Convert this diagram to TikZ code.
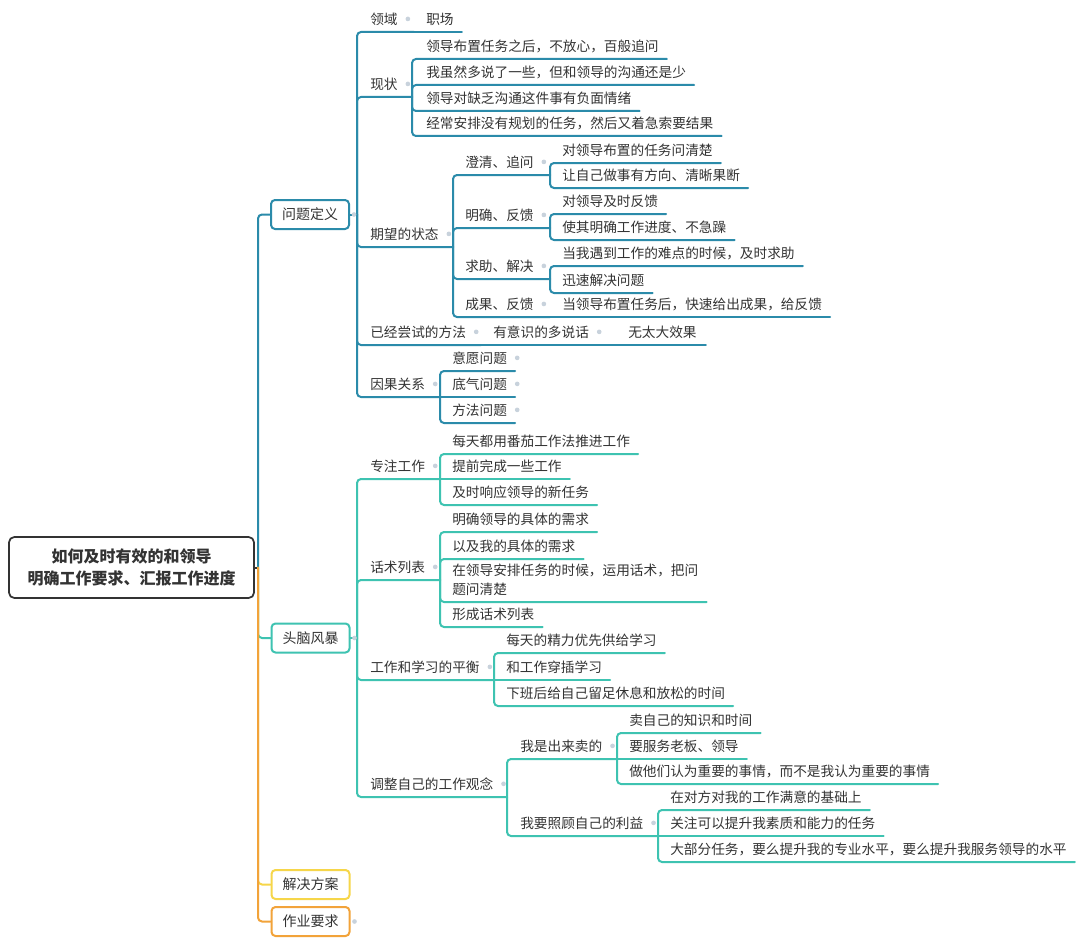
\documentclass[tikz,border=0pt]{standalone}
\usepackage{fontspec}
\setmainfont{Noto Sans CJK SC}
\usepackage{xcolor}
\usepackage{tikz}
\usetikzlibrary{calc}
\definecolor{ink}{HTML}{333333}
\definecolor{blu}{HTML}{2B8BAA}
\definecolor{tea}{HTML}{3EC3B1}
\definecolor{yel}{HTML}{F6D64A}
\definecolor{org}{HTML}{F2A33A}
\definecolor{dotc}{HTML}{C8D2DC}
\tikzset{
  ln/.style={line width=1.5pt, rounded corners=3pt, line cap=round},
  lnb/.style={ln, draw=blu},
  lnt/.style={ln, draw=tea},
  lny/.style={ln, draw=yel},
  lno/.style={ln, draw=org},
  tp/.style={anchor=south west, inner xsep=0pt, inner ysep=5.3pt, text depth=0pt, text=ink, font=\fontsize{10.25}{14.25}\selectfont},
  hub/.style={rounded corners=3pt, line width=1.5pt, minimum width=58.5pt, minimum height=21.75pt, fill=white, text=ink, font=\fontsize{10.5}{13}\selectfont},
  root/.style={draw=ink, rounded corners=4pt, line width=1.3pt, minimum width=183.75pt, minimum height=45.75pt, align=center, text=ink, font=\fontsize{12}{16.5}\selectfont\bfseries},
  dotn/.style={circle, fill=dotc, inner sep=0pt, minimum size=3.5pt},
}

\begin{document}
\begin{tikzpicture}[x=0.75pt, y=-0.75pt]
  \fill[white] (0,0) rectangle (1080,945);
  \useasboundingbox (0,0) rectangle (1080,945);

  % root and main topics
  \node[root] (rt) at (131.5,567.5) {如何及时有效的和领导\\明确工作要求、汇报工作进度};
  \coordinate (rt-o) at (258,567.5);
  \node[hub, draw=blu] (wt) at (310,214.5) {问题定义};
  \node[hub, draw=tea] (nb) at (310.5,638) {头脑风暴};
  \node[hub, draw=yel] (ja) at (310.5,884.5) {解决方案};
  \node[hub, draw=org] (zy) at (310.5,921.5) {作业要求};
  \coordinate (wt-o) at (357,214.5);
  \coordinate (nb-o) at (357,638);

  % 问题定义
  \node[tp] (ly) at (370,32) {领域};
  \node[tp] (zc) at (426,32) {职场};
  \coordinate (ly-o) at (414,32);
  \node[tp] (xz) at (370,97) {现状};
  \coordinate (xz-o) at (412,97);
  \node[tp] (x1) at (426,59) {领导布置任务之后，不放心，百般追问};
  \node[tp] (x2) at (426,85) {我虽然多说了一些，但和领导的沟通还是少};
  \node[tp] (x3) at (426,111) {领导对缺乏沟通这件事有负面情绪};
  \node[tp] (x4) at (426,136) {经常安排没有规划的任务，然后又着急索要结果};
  \node[tp] (qw) at (370,247) {期望的状态};
  \coordinate (qw-o) at (453,247);
  \node[tp] (cq) at (465,175) {澄清、追问};
  \coordinate (cq-o) at (550,175);
  \node[tp] (c1) at (562,163) {对领导布置的任务问清楚};
  \node[tp] (c2) at (562,188) {让自己做事有方向、清晰果断};
  \node[tp] (mq) at (465,228) {明确、反馈};
  \coordinate (mq-o) at (550,228);
  \node[tp] (m1) at (562,214) {对领导及时反馈};
  \node[tp] (m2) at (562,240) {使其明确工作进度、不急躁};
  \node[tp] (qz) at (465,279) {求助、解决};
  \coordinate (qz-o) at (550,279);
  \node[tp] (q1) at (562,266) {当我遇到工作的难点的时候，及时求助};
  \node[tp] (q2) at (562,293) {迅速解决问题};
  \node[tp] (cg) at (465,317) {成果、反馈};
  \coordinate (cg-o) at (550,317);
  \node[tp] (g1) at (562,317) {当领导布置任务后，快速给出成果，给反馈};
  \node[tp] (ys) at (370,345) {已经尝试的方法};
  \coordinate (ys-o) at (481,345);
  \node[tp] (yy) at (493,345) {有意识的多说话};
  \coordinate (yy-o) at (616,345);
  \node[tp] (wx) at (628,345) {无太大效果};
  \node[tp] (yg) at (370,397) {因果关系};
  \coordinate (yg-o) at (440,397);
  \node[tp] (y1) at (452,371) {意愿问题};
  \node[tp] (y2) at (452,397) {底气问题};
  \node[tp] (y3) at (452,423) {方法问题};

  % 头脑风暴
  \node[tp] (zz) at (370,479) {专注工作};
  \coordinate (zz-o) at (440,479);
  \node[tp] (z1) at (452,454) {每天都用番茄工作法推进工作};
  \node[tp] (z2) at (452,479) {提前完成一些工作};
  \node[tp] (z3) at (452,505) {及时响应领导的新任务};
  \node[tp] (hs) at (370,580) {话术列表};
  \coordinate (hs-o) at (440,580);
  \node[tp] (h1) at (452,532) {明确领导的具体的需求};
  \node[tp] (h2) at (452,559) {以及我的具体的需求};
  \node[tp, align=left] (h3) at (452,602) {在领导安排任务的时候，运用话术，把问\\题问清楚};
  \node[tp] (h4) at (452,627) {形成话术列表};
  \node[tp] (gx) at (370,680) {工作和学习的平衡};
  \coordinate (gx-o) at (494,680);
  \node[tp] (w1) at (506,653) {每天的精力优先供给学习};
  \node[tp] (w2) at (506,680) {和工作穿插学习};
  \node[tp] (w3) at (506,706) {下班后给自己留足休息和放松的时间};
  \node[tp] (tz) at (370,797) {调整自己的工作观念};
  \coordinate (tz-o) at (507,797);
  \node[tp] (mc) at (520,759) {我是出来卖的};
  \coordinate (mc-o) at (617,759);
  \node[tp] (s1) at (629,733) {卖自己的知识和时间};
  \node[tp] (s2) at (629,759) {要服务老板、领导};
  \node[tp] (s3) at (629,784) {做他们认为重要的事情，而不是我认为重要的事情};
  \node[tp] (zg) at (520,836) {我要照顾自己的利益};
  \coordinate (zg-o) at (658,836);
  \node[tp] (r1) at (670,810) {在对方对我的工作满意的基础上};
  \node[tp] (r2) at (670,836) {关注可以提升我素质和能力的任务};
  \node[tp] (r3) at (670,862) {大部分任务，要么提升我的专业水平，要么提升我服务领导的水平};

  % trunk
  \draw[ln, draw=ink] (rt.east) -- (rt-o);
  \draw[lnb] (rt-o) |- (wt.west);
  \draw[lnt] (rt-o) |- (nb.west);
  \draw[lny] (rt-o) |- (ja.west);
  \draw[lno] (rt-o) |- (zy.west);

  % blue branch
  \draw[lnb] (wt.east) -- (wt-o);
  \draw[lnb] (wt-o) |- (ly-o);
  \draw[lnb] (ly-o) -- ($(zc.south east)+(8,0)$);
  \draw[lnb] (wt-o) |- (xz-o);
  \foreach \c in {x1,x2,x3,x4}
    \draw[lnb] (xz-o) |- ($(\c.south east)+(8,0)$);
  \draw[lnb] (wt-o) |- (qw-o);
  \foreach \p in {cq,mq,qz}
    \draw[lnb] (qw-o) |- (\p-o);
  \draw[lnb] (qw-o) |- (cg-o);
  \foreach \c in {c1,c2}
    \draw[lnb] (cq-o) |- ($(\c.south east)+(8,0)$);
  \foreach \c in {m1,m2}
    \draw[lnb] (mq-o) |- ($(\c.south east)+(8,0)$);
  \foreach \c in {q1,q2}
    \draw[lnb] (qz-o) |- ($(\c.south east)+(8,0)$);
  \draw[lnb] (cg-o) -- ($(g1.south east)+(8,0)$);
  \draw[lnb] (wt-o) |- (ys-o);
  \draw[lnb] (ys-o) -- (yy-o);
  \draw[lnb] (yy-o) -- ($(wx.south east)+(9,0)$);
  \draw[lnb] (wt-o) |- (yg-o);
  \draw[lnb] (yg-o) |- ($(y1.south east)+(8,0)$);
  \draw[lnb] (yg-o) -- ($(y2.south east)+(8,0)$);
  \draw[lnb] (yg-o) |- ($(y3.south east)+(8,0)$);

  % teal branch
  \draw[lnt] (nb.east) -- (nb-o);
  \draw[lnt] (nb-o) |- (zz-o);
  \draw[lnt] (zz-o) |- ($(z1.south east)+(8,0)$);
  \draw[lnt] (zz-o) -- ($(z2.south east)+(8,0)$);
  \draw[lnt] (zz-o) |- ($(z3.south east)+(8,0)$);
  \draw[lnt] (nb-o) |- (hs-o);
  \foreach \c in {h1,h2,h3,h4}
    \draw[lnt] (hs-o) |- ($(\c.south east)+(8,0)$);
  \draw[lnt] (nb-o) |- (gx-o);
  \draw[lnt] (gx-o) |- ($(w1.south east)+(8,0)$);
  \draw[lnt] (gx-o) -- ($(w2.south east)+(8,0)$);
  \draw[lnt] (gx-o) |- ($(w3.south east)+(8,0)$);
  \draw[lnt] (nb-o) |- (tz-o);
  \draw[lnt] (tz-o) |- (mc-o);
  \draw[lnt] (tz-o) |- (zg-o);
  \draw[lnt] (mc-o) |- ($(s1.south east)+(8,0)$);
  \draw[lnt] (mc-o) -- ($(s2.south east)+(8,0)$);
  \draw[lnt] (mc-o) |- ($(s3.south east)+(8,0)$);
  \draw[lnt] (zg-o) |- ($(r1.south east)+(8,0)$);
  \draw[lnt] (zg-o) -- ($(r2.south east)+(8,0)$);
  \draw[lnt] (zg-o) |- ($(r3.south east)+(8,0)$);

  % collapse marks
  \foreach \n in {ly,xz,qw,cq,mq,qz,cg,ys,yy,yg,y1,y2,y3,zz,hs,gx,tz,mc,zg}
    \node[dotn] (d-\n) at ($(\n.east)+(10,0)$) {};
  \foreach \n in {wt,nb,zy}
    \node[dotn] (d-\n) at ($(\n.east)+(4,0)$) {};
\end{tikzpicture}
\end{document}
